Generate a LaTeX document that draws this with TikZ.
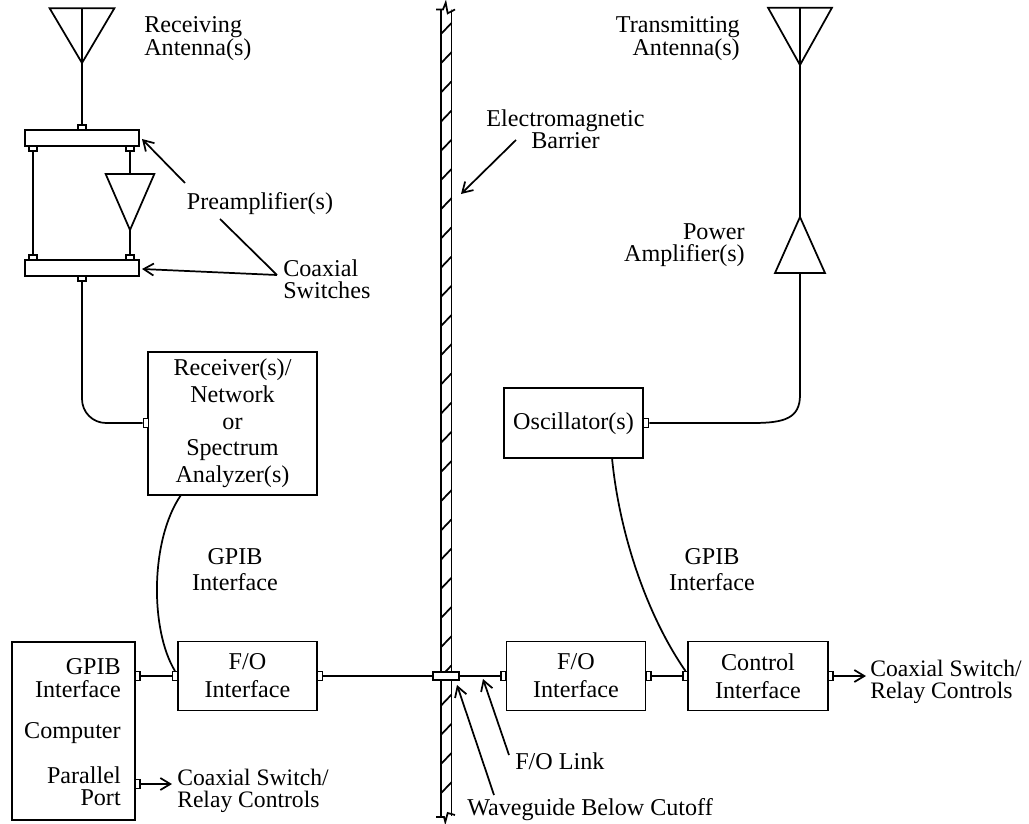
\documentclass[tikz,border=0pt]{standalone}
\usepackage{fontspec}
\setmainfont{Liberation Serif}
\usetikzlibrary{arrows.meta, shapes.geometric}
\tikzset{
  wire/.style={line width=1.3pt},
  callout/.style={line width=1.3pt, -{Straight Barb[length=7.5pt,width=9pt]}},
  blockbox/.style={draw, line width=1.3pt, inner sep=0pt, align=center, font=\fontsize{18.1}{20}\selectfont},
  tag/.style={inner sep=0pt, font=\fontsize{18.1}{16.8}\selectfont},
  ctltag/.style={inner sep=0pt, anchor=west, align=left, font=\fontsize{17.7}{16.8}\selectfont},
  portv/.style={draw, fill=white, line width=1.1pt, inner sep=0pt, minimum width=6pt, minimum height=3.8pt},
  porth/.style={draw, fill=white, line width=1.1pt, inner sep=0pt, minimum width=3.8pt, minimum height=6.4pt},
  trian/.style={draw, line width=1.3pt, isosceles triangle, isosceles triangle stretches, inner sep=0pt, outer sep=0pt, anchor=apex}
}

\begin{document}
\begin{tikzpicture}[x=0.75pt, y=-0.75pt]
  \useasboundingbox (0,0) rectangle (1029,824);
  % barrier
  \draw[wire] (441,9.5) -- (441,816);
  \draw[wire] (451.5,9.5) -- (451.5,816);
  \foreach \y in {0,...,26}
    \draw[wire] (441,34+29.2*\y) -- (451.5,23+29.2*\y);
  \draw[wire, fill=white] (436,9.5) -- (443,9.5) -- (445.7,2.7) -- (447.7,13.3) -- (455,9.5);
  \draw[wire] (436,817) -- (444,817) -- (445.3,822) -- (447.7,813) -- (455,815);
  % receive side
  \node[trian, shape border rotate=270, minimum width=48.5pt, minimum height=41pt] (rxant) at (82,63) {};
  \node[blockbox, minimum width=85.5pt, minimum height=12pt] (swa) at (82,138) {};
  \node[blockbox, minimum width=85.5pt, minimum height=12pt] (swb) at (82,268) {};
  \node[portv] (swain) at (82,127.5) {};
  \node[portv] (swal) at (33,148.5) {};
  \node[portv] (swar) at (130,148.5) {};
  \node[portv] (swbl) at (33,257.5) {};
  \node[portv] (swbr) at (130,257.5) {};
  \node[portv] (swbout) at (82,278.5) {};
  \node[trian, shape border rotate=270, minimum width=36.5pt, minimum height=42pt] (preamp) at (130,230) {};
  \node[blockbox, minimum width=126.5pt, minimum height=107.5pt] (rcv) at (232.5,423.5) {Receiver(s)/\\Network\\or\\Spectrum\\Analyzer(s)};
  \node[porth] (rcvin) at (146,423) {};
  \draw[wire] (rxant.lower side) -- (rxant.apex) -- (swain);
  \draw[wire] (swal) -- (swbl);
  \draw[wire] (swar) -- (preamp.lower side);
  \draw[wire] (preamp.apex) -- (swbr);
  \draw[wire, rounded corners=18pt] (swbout) |- (rcvin);
  % bottom row
  \node[blockbox, minimum width=92.5pt, minimum height=134pt] (comp) at (73.5,731) {};
  \node[blockbox, minimum width=104.25pt, minimum height=51.75pt] (fol) at (247.5,676) {F/O\\[1pt]Interface};
  \node[blockbox, minimum width=104.25pt, minimum height=51.75pt] (fomid) at (576,676) {F/O\\[1pt]Interface};
  \node[blockbox, minimum width=105pt, minimum height=51.75pt] (ctrl) at (758,676) {Control\\[1pt]Interface};
  \node[blockbox, minimum width=104pt, minimum height=52pt, text depth=2.5pt] (osc) at (573.5,423) {Oscillator(s)};
  \node[porth] (compa) at (137.5,676) {};
  \node[porth] (compb) at (137.5,784) {};
  \node[porth] (folin) at (175,676) {};
  \node[porth] (folout) at (320,676) {};
  \node[draw, fill=white, line width=1.1pt, inner sep=0pt, minimum width=19.5pt, minimum height=6pt] (wg) at (446,676) {};
  \node[porth] (fomin) at (503.5,676) {};
  \node[porth] (fomout) at (648.5,676) {};
  \node[porth] (ctrlin) at (685.5,676) {};
  \node[porth] (ctrlout) at (830.5,676) {};
  \node[porth] (oscout) at (646,423) {};
  \draw[wire] (compa) -- (folin);
  \draw[wire] (folout) -- (wg);
  \draw[wire] (wg) -- (fomin);
  \draw[wire] (fomout) -- (ctrlin);
  \draw[callout] (ctrlout) -- (866,676);
  \draw[callout] (compb) -- (172,784);
  % transmit side
  \node[trian, shape border rotate=270, minimum width=48pt, minimum height=43pt] (txant) at (800,65) {};
  \node[trian, shape border rotate=90, minimum width=37.5pt, minimum height=42pt] (pamp) at (800,217) {};
  \draw[wire] (txant.lower side) -- (txant.apex) -- (pamp.apex);
  \draw[wire] (oscout) -- (753,423) .. controls (785,423) and (800,418) .. (800,395) -- (pamp.lower side);
  % GPIB curves
  \coordinate (rcvout) at (181,495);
  \coordinate (oscbot) at (612,458);
  \draw[wire] (rcvout) .. controls (150,540) and (150,630) .. (folin.north);
  \draw[wire] (oscbot) .. controls (620,540) and (650,620) .. (ctrlin.north);
  % callouts
  \coordinate (preatail) at (185,183);
  \coordinate (preahead) at (142,139);
  \coordinate (coaxjoin) at (277,275);
  \coordinate (linetop) at (220,219);
  \coordinate (swbhead) at (142,269);
  \coordinate (emtail) at (516,140);
  \coordinate (emhead) at (461,194);
  \coordinate (foltail) at (509,755);
  \coordinate (folhead) at (483,679);
  \coordinate (wgtail) at (494,795);
  \coordinate (wghead) at (457,685);
  \draw[callout] (preatail) -- (preahead);
  \draw[wire] (linetop) -- (coaxjoin);
  \draw[callout] (coaxjoin) -- (swbhead);
  \draw[callout] (emtail) -- (emhead);
  \draw[callout] (foltail) -- (folhead);
  \draw[callout] (wgtail) -- (wghead);
  % labels
  \node[tag, anchor=west, align=left] (rxlab) at (144,38.5) {Receiving\\Antenna(s)};
  \node[tag, anchor=east, align=right] (txlab) at (740,38.5) {Transmitting\\Antenna(s)};
  \node[tag, align=center] (emlab) at (565.5,129.5) {Electromagnetic\\Barrier};
  \node[tag] (prelab) at (260,203.5) {Preamplifier(s)};
  \node[tag, anchor=west, align=left] (coaxlab) at (283,279) {Coaxial\\Switches};
  \node[tag, anchor=east, align=right] (pwrlab) at (745,245) {Power\\Amplifier(s)};
  \node[tag, align=center, font=\fontsize{18.1}{20}\selectfont] (gpibl) at (235,569.5) {GPIB\\Interface};
  \node[tag, align=center, font=\fontsize{18.1}{20}\selectfont] (gpibr) at (712,569.5) {GPIB\\Interface};
  \node[tag, anchor=east, align=right] (compg) at (121,678) {GPIB\\Interface};
  \node[tag, anchor=east] (compc) at (121,733.5) {Computer};
  \node[tag, anchor=east, align=right] (compp) at (121,786) {Parallel\\Port};
  \node[ctltag] (ctrllab) at (870,682) {Coaxial Switch/\\Relay Controls};
  \node[ctltag] (complab) at (177,791) {Coaxial Switch/\\Relay Controls};
  \node[tag, anchor=west] (foloab) at (515,761) {F/O Link};
  \node[tag, anchor=west] (wglab) at (467,810) {Waveguide Below Cutoff};
\end{tikzpicture}
\end{document}
